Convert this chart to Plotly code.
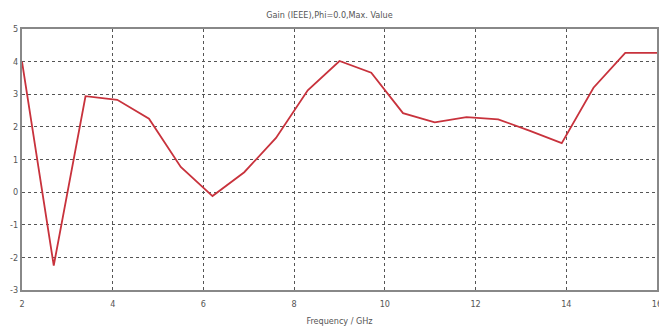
import plotly.graph_objects as go

freq_ghz = [2.0, 2.7, 3.4, 4.1, 4.8, 5.5, 6.2, 6.9, 7.6, 8.3, 9.0, 9.7, 10.4, 11.1, 11.8,
            12.5, 13.2, 13.9, 14.6, 15.3, 16.0]
gain_db = [4.0, -2.25, 2.94, 2.83, 2.25, 0.77, -0.12, 0.61, 1.66, 3.12, 4.02, 3.66, 2.42,
           2.14, 2.3, 2.23, 1.88, 1.5, 3.2, 4.27, 4.27]

x_ticks = [2, 4, 6, 8, 10, 12, 14, 16]
y_ticks = [-3, -2, -1, 0, 1, 2, 3, 4, 5]

fig = go.Figure()
fig.add_trace(go.Scatter(x=freq_ghz, y=gain_db, mode="lines",
                         line=dict(color="#c8323c", width=1.8), showlegend=False))

fig.update_layout(
    width=659, height=335,
    margin=dict(l=22, r=2, t=29, b=45),
    paper_bgcolor="white", plot_bgcolor="white",
    font=dict(family="Liberation Sans Narrow, DejaVu Sans Condensed, Arial", size=9, color="#555555"),
    title=dict(text="Gain (IEEE),Phi=0.0,Max. Value", x=0.5, xanchor="center", y=0.955, yanchor="middle",
               font=dict(size=9, color="#555555")),
)
fig.update_xaxes(range=[2, 16], tickvals=x_ticks, ticktext=[str(v) for v in x_ticks],
                 showgrid=True, gridcolor="#555555", griddash="dot", gridwidth=1,
                 showline=True, linecolor="#888888", linewidth=2, mirror=True,
                 zeroline=False, ticks="", ticklabelstandoff=4, ticklabeloverflow="allow",
                 automargin=False,
                 title=dict(text="Frequency / GHz", standoff=10, font=dict(size=9, color="#555555")))
fig.update_yaxes(range=[-3, 5], tickvals=y_ticks, ticktext=[str(v) for v in y_ticks],
                 showgrid=True, gridcolor="#555555", griddash="dot", gridwidth=1,
                 showline=True, linecolor="#888888", linewidth=2, mirror=True,
                 zeroline=False, ticks="", ticklabeloverflow="allow", automargin=False)

fig.write_html("out.html")
